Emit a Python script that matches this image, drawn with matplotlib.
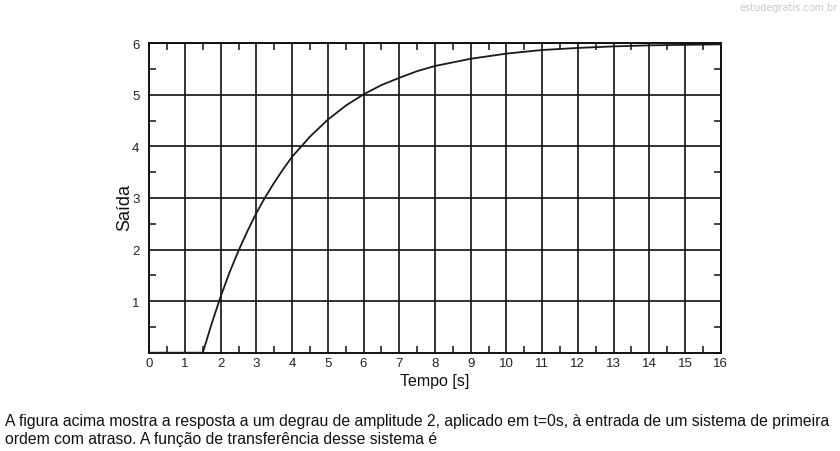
import matplotlib
matplotlib.use("Agg")
import matplotlib.pyplot as plt
from matplotlib.ticker import MultipleLocator

# Data
tempo = [0.0, 1.0, 1.5, 1.75, 2.0, 2.25, 2.5, 2.75, 3.0, 3.25, 3.5, 3.75, 4.0,
         4.5, 5.0, 5.5, 6.0, 6.5, 7.0, 7.5, 8.0, 9.0, 10.0, 11.0, 12.0,
         13.0, 14.0, 15.0, 16.0]
saida = [0.0, 0.0, 0.0, 0.57, 1.09, 1.56, 1.98, 2.36, 2.71, 3.02, 3.30, 3.56, 3.80,
         4.19, 4.52, 4.79, 5.01, 5.19, 5.33, 5.46, 5.56, 5.70, 5.80, 5.87, 5.91,
         5.94, 5.96, 5.97, 5.98]
x_ticks = list(range(0, 17))
y_ticks = [1, 2, 3, 4, 5, 6]
x_label = "Tempo [s]"
y_label = "Saída"
caption_lines = [
    "A figura acima mostra a resposta a um degrau de amplitude 2, aplicado em t=0s, à entrada de um sistema de primeira",
    "ordem com atraso. A função de transferência desse sistema é",
]
watermark = "estudegratis.com.br"

plt.rcParams['font.family'] = ['Liberation Sans', 'DejaVu Sans']

fig = plt.figure(figsize=(8.4, 4.52), dpi=100)
fig.patch.set_facecolor("white")
ax = fig.add_axes([0.1777, 0.2175, 0.6803, 0.6845])

ax.plot(tempo, saida, color="#1a1a1a", lw=1.3, clip_on=False, zorder=3)

ax.set_xlim(0, 16)
ax.set_ylim(0, 6)
ax.set_xticks(x_ticks)
ax.set_yticks(y_ticks)
ax.xaxis.set_minor_locator(MultipleLocator(0.5))
ax.yaxis.set_minor_locator(MultipleLocator(0.5))
ax.grid(True, which="major", color="#111111", lw=1.2)
ax.set_axisbelow(True)
for s in ax.spines.values():
    s.set_color("#111111")
    s.set_linewidth(1.4)

ax.tick_params(which="major", length=0, labelsize=9.5, labelcolor="#222222")
ax.tick_params(axis="x", which="major", pad=3)
ax.tick_params(axis="y", which="major", pad=7)
ax.tick_params(which="minor", direction="in", length=5, width=1.1,
               color="#111111", top=True, right=True)

ax.set_xlabel(x_label, fontsize=11.5, color="#111111", labelpad=3)
ax.set_ylabel(y_label, fontsize=13, color="#111111")
ax.yaxis.set_label_coords(-0.0285, 0.471)

fig.text(5 / 840, 1 - 422 / 452, caption_lines[0], fontsize=11.3,
         color="#111111", va="center", ha="left")
fig.text(5 / 840, 1 - 440 / 452, caption_lines[1], fontsize=11.3,
         color="#111111", va="center", ha="left")
fig.text(838 / 840, 1 - 8 / 452, watermark, fontsize=7, family="DejaVu Sans",
         color="#c8c8d2", va="center", ha="right")

fig.savefig("out.png", dpi=100, facecolor="white")
